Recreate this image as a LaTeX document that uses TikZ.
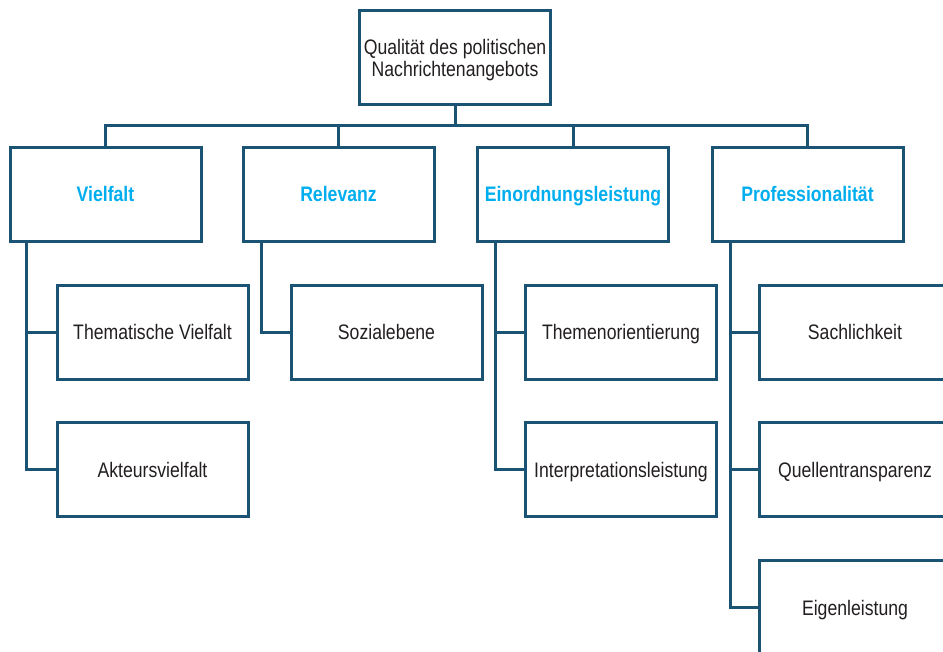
\documentclass[tikz,border=0pt]{standalone}
\usepackage{fontspec}
\setmainfont{Liberation Sans}[FakeStretch=0.84]
\definecolor{linec}{HTML}{1B5374}
\definecolor{headc}{HTML}{00AEEF}
\definecolor{textc}{HTML}{231F20}
\begin{document}
\begin{tikzpicture}[x=1pt,y=-1pt,
  box/.style={draw=linec,line width=3pt,rectangle,minimum width=191pt,minimum height=94pt,inner sep=0pt,align=center,text=textc,font=\fontsize{21}{22}\selectfont,fill=white},
  leaf/.style={box,text height=15pt,text depth=0pt},
  head/.style={leaf,text=headc,font=\fontsize{21}{22}\selectfont\bfseries},
  conn/.style={draw=linec,line width=3pt}]
\clip (0,0) rectangle (943,652);
\fill[white] (0,0) rectangle (943,652);
% top
\node[box,text depth=0pt] (top) at (455,57.5) {Qualität des politischen\\Nachrichtenangebots};
% level 1
\node[head] (v) at (105.5,194.5) {Vielfalt};
\node[head] (r) at (338.5,194.5) {Relevanz};
\node[head] (e) at (573,194.5) {Einordnungsleistung};
\node[head] (p) at (807.5,194.5) {Professionalität};
% level 2
\node[leaf] (tv) at (152.5,332.5) {Thematische Vielfalt};
\node[leaf] (av) at (152.5,469.5) {Akteursvielfalt};
\node[leaf] (se) at (386.5,332.5) {Sozialebene};
\node[leaf] (to) at (621,332.5) {Themenorientierung};
\node[leaf] (il) at (621,469.5) {Interpretationsleistung};
\node[leaf] (sa) at (855,332.5) {Sachlichkeit};
\node[leaf] (qt) at (855,469.5) {Quellentransparenz};
\node[leaf] (ei) at (855,607.5) {Eigenleistung};
% bus
\coordinate (bus) at (0,126);
\draw[conn] (top.south) -- (top.south |- bus);
\draw[conn] (v.north) -- (v.north |- bus) -- (p.north |- bus) -- (p.north);
\draw[conn] (r.north) -- (r.north |- bus);
\draw[conn] (e.north) -- (e.north |- bus);
% trunks
\coordinate (vt) at (26,0);
\coordinate (rt) at (261,0);
\coordinate (et) at (495,0);
\coordinate (pt) at (730,0);
\draw[conn] (v.south -| vt) |- (av.west);
\draw[conn] (vt |- tv.west) -- (tv.west);
\draw[conn] (r.south -| rt) |- (se.west);
\draw[conn] (e.south -| et) |- (il.west);
\draw[conn] (et |- to.west) -- (to.west);
\draw[conn] (p.south -| pt) |- (ei.west);
\draw[conn] (pt |- sa.west) -- (sa.west);
\draw[conn] (pt |- qt.west) -- (qt.west);
\end{tikzpicture}
\end{document}
